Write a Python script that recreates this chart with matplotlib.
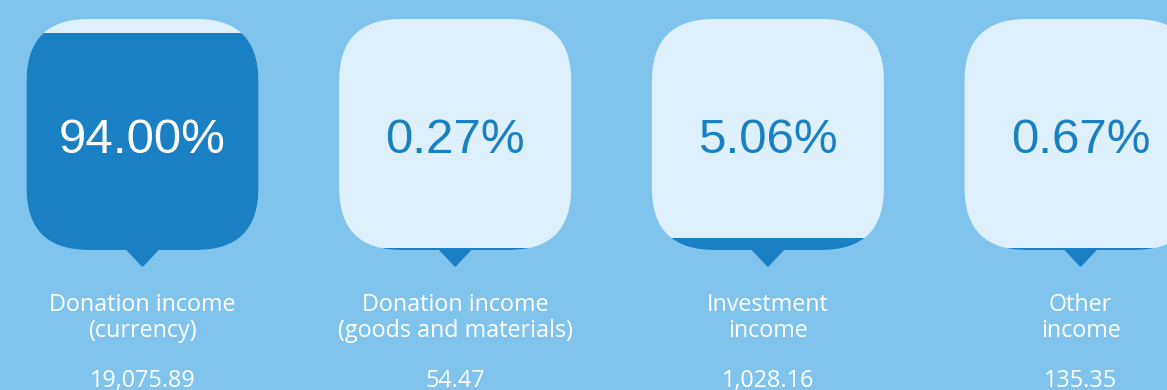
import matplotlib.pyplot as plt
from matplotlib.patches import FancyBboxPatch, Rectangle, Polygon

# income breakdown
labels = ['Donation income\n(currency)', 'Donation income\n(goods and materials)',
          'Investment\nincome', 'Other\nincome']
shares = [94.00, 0.27, 5.06, 0.67]
amounts = ['19,075.89', '54.47', '1,028.16', '135.35']

bg = '#80C4EE'
light = '#DEF0FB'
dark = '#1A80C4'

W, H = 1167, 390
fig = plt.figure(figsize=(W / 100, H / 100), dpi=100, facecolor=bg)
ax = fig.add_axes([0, 0, 1, 1])
ax.set_xlim(0, W)
ax.set_ylim(H, 0)
ax.axis('off')

box_w, box_h = 232, 231
top = 19
step = 312.7
x0 = 26.5
rad = 62

for i, (lab, pct, amt) in enumerate(zip(labels, shares, amounts)):
    left = x0 + i * step
    cx = left + box_w / 2
    bottom = top + box_h

    # pointer under the box, slightly rounded tip
    tri = Polygon([[cx - 16, bottom - 1], [cx + 16, bottom - 1], [cx, bottom + 16]],
                  closed=True, facecolor=dark, edgecolor=dark, linewidth=1.2,
                  joinstyle='round', zorder=1)
    ax.add_patch(tri)

    box = FancyBboxPatch((left + rad, top + rad), box_w - 2 * rad, box_h - 2 * rad,
                         boxstyle=f'round,pad={rad}', facecolor=light,
                         edgecolor='none', zorder=2)
    ax.add_patch(box)

    # filled level from the bottom, clipped to the rounded shape
    fill_h = max(box_h * pct / 100, 2)
    fill = Rectangle((left - 1, bottom - fill_h), box_w + 2, fill_h,
                     facecolor=dark, edgecolor='none', zorder=3)
    ax.add_patch(fill)
    fill.set_clip_path(box)

    txt_color = 'white' if pct > 50 else dark
    ax.text(cx, 153, f'{pct:.2f}%', ha='center', va='baseline', fontsize=35.5,
            color=txt_color, family='Liberation Sans', zorder=4)

    # va='baseline' on two lines anchors the last line
    ax.text(cx, 337, lab, ha='center', va='baseline', fontsize=16.8,
            color='white', family='Open Sans', linespacing=1.1, zorder=4)
    ax.text(cx, 387, amt, ha='center', va='baseline', fontsize=16.8,
            color='white', family='Open Sans', zorder=4)

fig.savefig('out.png', dpi=100, facecolor=bg)
